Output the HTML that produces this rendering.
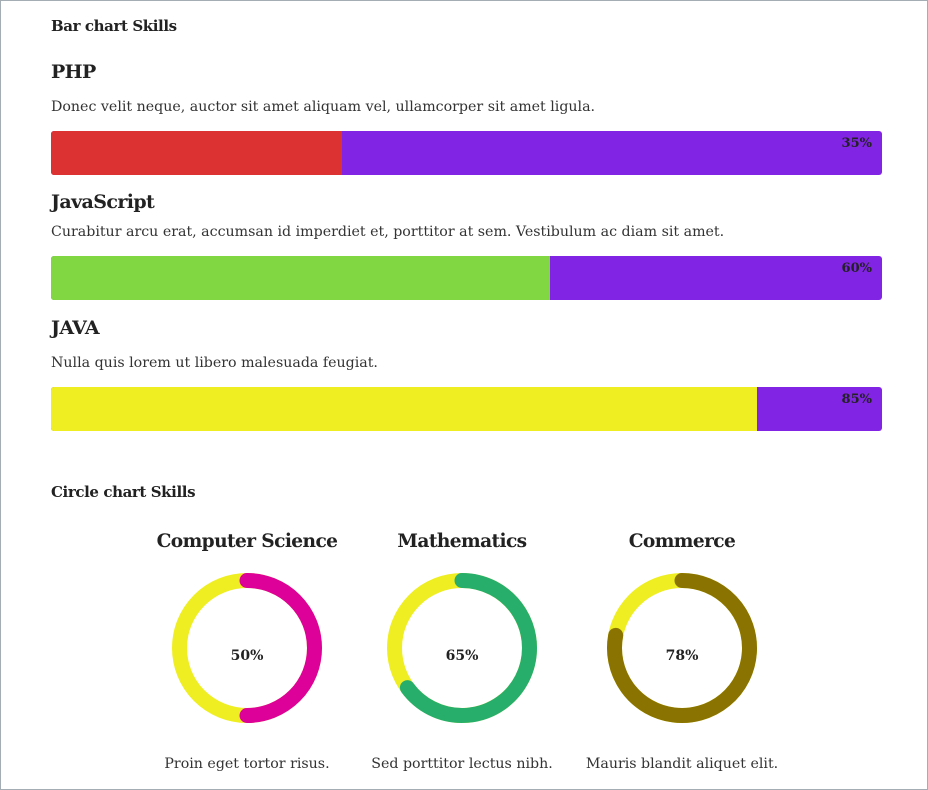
<!DOCTYPE html>
<html><head><meta charset="utf-8">
<style>
html,body{margin:0;padding:0;background:#fff;}
body{width:928px;height:790px;position:relative;overflow:hidden;font-family:"DejaVu Serif","Liberation Serif",serif;color:#222;}
#frame{position:absolute;left:0;top:0;width:926px;height:788px;border:1px solid #a4adb3;}
.t{position:absolute;white-space:nowrap;}
.h5{font-size:15px;font-weight:bold;letter-spacing:-0.4px;}
.h3{font-size:19px;font-weight:bold;letter-spacing:-0.6px;}
.p{font-size:14.2px;color:#333;letter-spacing:0px;}
</style></head><body>
<div id="frame"></div>
<div class="t h5" style="left:51px;top:17px">Bar chart Skills</div>
<div id="bars"></div>
<div class="t h5" style="left:51px;top:483px">Circle chart Skills</div>
<svg id="circles" width="928" height="790" style="position:absolute;left:0;top:0"></svg>
<script>
const barSkills=["PHP","JavaScript","JAVA"];
const barDescs=["Donec velit neque, auctor sit amet aliquam vel, ullamcorper sit amet ligula.","Curabitur arcu erat, accumsan id imperdiet et, porttitor at sem. Vestibulum ac diam sit amet.","Nulla quis lorem ut libero malesuada feugiat."];
const barValues=[35,60,85];
const barColors=["#dc3232","#81d742","#eeee22"];
const circleSkills=["Computer Science","Mathematics","Commerce"];
const circleValues=[50,65,78];
const circleColors=["#dd0099","#27ae6b","#8a7300"];
const circleCaptions=["Proin eget tortor risus.","Sed porttitor lectus nibh.","Mauris blandit aliquet elit."];

const bars=document.getElementById('bars');
const titleY=[61,191,317],descY=[99,224,355],barY=[131,256,387];
const X0=51,W=831,H=44;
function xScale(v){return W*v/100;}
barSkills.forEach((s,i)=>{
  const t=document.createElement('div');t.className='t h3';t.style.left=X0+'px';t.style.top=titleY[i]+'px';t.textContent=s;
  
  
  bars.appendChild(t);
  const d=document.createElement('div');d.className='t p';d.style.left=X0+'px';d.style.top=descY[i]+'px';d.textContent=barDescs[i];
  
  
  bars.appendChild(d);
  const tr=document.createElement('div');
  tr.style.cssText=`position:absolute;left:${X0}px;top:${barY[i]}px;width:${W}px;height:${H}px;background:#8224e3;border-radius:3px;overflow:hidden`;
  
  
  const f=document.createElement('div');
  f.style.cssText=`position:absolute;left:0;top:0;height:${H}px;width:${xScale(barValues[i])}px;background:${barColors[i]}`;
  
  
  tr.appendChild(f);
  const l=document.createElement('div');
  l.style.cssText='position:absolute;right:10px;top:5px;font-size:13px;font-weight:bold;color:#222';
  l.textContent=barValues[i]+'%';
  
  
  tr.appendChild(l);
  bars.appendChild(tr);
});

const svg=document.getElementById('circles');const NS='http://www.w3.org/2000/svg';
const cxs=[247,462,682],cy=648,R=67.5,SW=15;
function el(n,a){const e=document.createElementNS(NS,n);for(const k in a)e.setAttribute(k,a[k]);svg.appendChild(e);return e;}
circleSkills.forEach((s,i)=>{
  const cx=cxs[i];
  const tt=el('text',{x:cx,y:547,'text-anchor':'middle','font-size':18.6,'font-weight':'bold','letter-spacing':'-0.6','fill':'#222'});tt.textContent=s;
  
  
  const bg=el('circle',{cx:cx,cy:cy,r:R,fill:'none',stroke:'#eeee22','stroke-width':SW});
  
  
  const a=circleValues[i]/100*2*Math.PI;
  const x1=cx,y1=cy-R,x2=cx+R*Math.sin(a),y2=cy-R*Math.cos(a);
  const arc=el('path',{d:`M${x1} ${y1} A${R} ${R} 0 ${a>Math.PI?1:0} 1 ${x2} ${y2}`,fill:'none',stroke:circleColors[i],'stroke-width':SW,'stroke-linecap':'round'});
  
  
  const v=el('text',{x:cx,y:cy+12,'text-anchor':'middle','font-size':14,'font-weight':'bold',fill:'#222'});v.textContent=circleValues[i]+'%';
  
  
  const c=el('text',{x:cx,y:768,'text-anchor':'middle','font-size':14.2,fill:'#333'});c.textContent=circleCaptions[i];
  
  
});
</script>
</body></html>
